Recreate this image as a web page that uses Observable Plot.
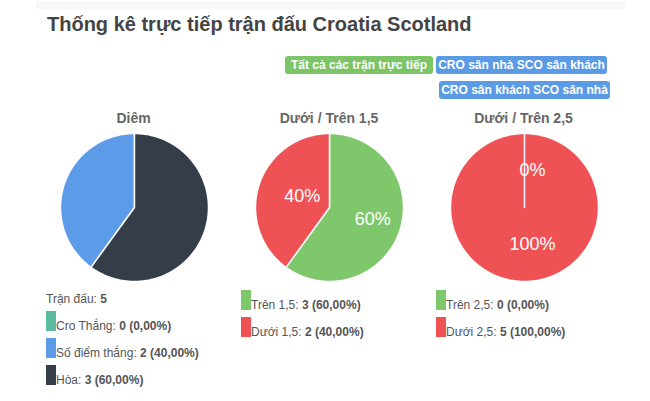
<!DOCTYPE html>
<html>
<head>
<meta charset="utf-8">
<script src="https://cdn.jsdelivr.net/npm/d3@7"></script>
<script src="https://cdn.jsdelivr.net/npm/@observablehq/plot@0.6"></script>
<style>
  html, body { margin: 0; padding: 0; background: #fff; }
  body { font-family: "Liberation Sans", Arial, sans-serif; }
  #root { position: relative; width: 650px; height: 401px; overflow: hidden; }
  .abs { position: absolute; }
  .topband { left: 36px; top: 2px; width: 589px; height: 7px; background: #f7f7f7; }
  .title { left: 47px; top: 13px; font-size: 20px; line-height: 23px; font-weight: bold; color: #444; white-space: nowrap; }
  .btn { height: 18px; line-height: 18px; font-size: 12px; font-weight: bold; color: #fff; text-align: center; border-radius: 3px; white-space: nowrap; }
  .ptitle { width: 200px; text-align: center; font-size: 14px; line-height: 16px; font-weight: bold; color: #666; white-space: nowrap; }
  .lg { font-size: 12px; line-height: 14px; color: #555; white-space: nowrap; }
  .lg b { color: #555; }
  .sw { width: 10px; height: 20px; }
</style>
</head>
<body>
<div id="root">
  <div class="abs topband"></div>
  <div class="abs title" id="title"></div>
</div>
<script>
// ---- data ----
const chartTitle = "Thống kê trực tiếp trận đấu Croatia Scotland";
const buttonLabels = ["Tất cả các trận trực tiếp", "CRO sân nhà SCO sân khách", "CRO sân khách SCO sân nhà"];
const pieTitles = ["Diêm", "Dưới / Trên 1,5", "Dưới / Trên 2,5"];
const totalLabel = "Trận đấu";
const totalMatches = 5;

const pie1Names = ["Cro Thắng", "Số điểm thắng", "Hòa"];
const pie1Values = [0, 2, 3];
const pie2Names = ["Trên 1,5", "Dưới 1,5"];
const pie2Values = [3, 2];
const pie3Names = ["Trên 2,5", "Dưới 2,5"];
const pie3Values = [0, 5];

// ---- styles ----
const pie1Colors = ["#5dbaa2", "#5b9be8", "#353e48"];
const overUnderColors = ["#7ec76b", "#ef5254"];
const buttonColors = ["#7cc567", "#5b9be6", "#5b9be6"];

const root = document.getElementById("root");
document.getElementById("title").textContent = chartTitle;

// buttons
const btnBoxes = [[285, 56, 148], [436, 56, 171], [439, 81, 171]];
buttonLabels.forEach((t, i) => {
  const d = document.createElement("div");
  d.className = "abs btn";
  d.style.left = btnBoxes[i][0] + "px";
  d.style.top = btnBoxes[i][1] + "px";
  d.style.width = btnBoxes[i][2] + "px";
  d.style.background = buttonColors[i];
  d.textContent = t;
  root.appendChild(d);
});

const pct = (v) => (v / totalMatches * 100).toFixed(2).replace(".", ",") + "%";

function piePlot(names, values, colors, {counter = false, labels = false} = {}) {
  const arcs = d3.pie().sort(null).startAngle(0).endAngle(counter ? -2 * Math.PI : 2 * Math.PI)(values);
  const pts = [];
  arcs.forEach((a, i) => {
    const name = names[i];
    pts.push({name, x: 0, y: 0});
    const span = a.endAngle - a.startAngle;
    const n = Math.max(1, Math.ceil(Math.abs(span) / (Math.PI / 180)));
    for (let k = 0; k <= n; k++) {
      const t = a.startAngle + span * k / n;
      pts.push({name, x: Math.sin(t), y: Math.cos(t)});
    }
  });
  const lab = arcs.map((a, i) => {
    const m = (a.startAngle + a.endAngle) / 2;
    return {x: 0.5 * Math.sin(m), y: 0.5 * Math.cos(m), text: Math.round(values[i] / d3.sum(values) * 100) + "%"};
  });
  const marks = [
    Plot.line(pts, {x: "x", y: "y", z: "name", fill: "name", stroke: "white", strokeWidth: 1.5, strokeLinejoin: "round", curve: "linear-closed"})
  ];
  if (labels) marks.push(Plot.text(lab, {x: "x", y: "y", text: "text", fill: "white", fontSize: 18, dx: 8}));
  return Plot.plot({
    width: 154, height: 154, margin: 3,
    x: {domain: [-1, 1], axis: null},
    y: {domain: [-1, 1], axis: null},
    color: {domain: names, range: colors},
    style: {fontFamily: "Liberation Sans, Arial, sans-serif", background: "transparent", overflow: "visible"},
    marks
  });
}

const centers = [133.5, 329, 523.5];
const cy = 207;
const plots = [
  piePlot(pie1Names, pie1Values, pie1Colors, {counter: true}),
  piePlot(pie2Names, pie2Values, overUnderColors, {labels: true}),
  piePlot(pie3Names, pie3Values, overUnderColors, {labels: true})
];
plots.forEach((p, i) => {
  const w = document.createElement("div");
  w.className = "abs";
  w.style.left = (centers[i] - 77) + "px";
  w.style.top = (cy - 77) + "px";
  w.appendChild(p);
  root.appendChild(w);
  const t = document.createElement("div");
  t.className = "abs ptitle";
  t.style.left = (centers[i] - 100) + "px";
  t.style.top = "110px";
  t.textContent = pieTitles[i];
  root.appendChild(t);
});

// legends
function addText(x, y, html) {
  const d = document.createElement("div");
  d.className = "abs lg";
  d.style.left = x + "px";
  d.style.top = y + "px";
  d.innerHTML = html;
  root.appendChild(d);
}
function addSwatch(x, y, c) {
  const d = document.createElement("div");
  d.className = "abs sw";
  d.style.left = x + "px";
  d.style.top = y + "px";
  d.style.background = c;
  root.appendChild(d);
}
function legend(x, y0, names, values, colors) {
  names.forEach((n, i) => {
    const y = y0 + i * 27;
    addSwatch(x, y, colors[i]);
    addText(x + 10, y + 8, `${n}: <b>${values[i]} (${pct(values[i])})</b>`);
  });
}
addText(46, 292, `${totalLabel}: <b>${totalMatches}</b>`);
legend(46, 311, pie1Names, pie1Values, pie1Colors);
legend(241, 290, pie2Names, pie2Values, overUnderColors);
legend(436, 290, pie3Names, pie3Values, overUnderColors);
</script>
</body>
</html>
